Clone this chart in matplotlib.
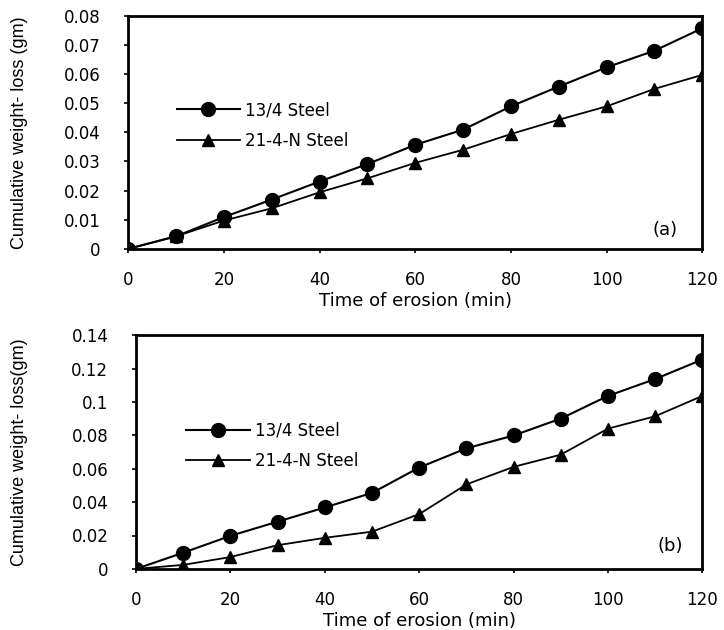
import matplotlib
matplotlib.use("Agg")
import matplotlib.pyplot as plt
from matplotlib.ticker import FuncFormatter

plt.rcParams['font.family'] = ['DejaVu Sans']

# Data
time_min = [0, 10, 20, 30, 40, 50, 60, 70, 80, 90, 100, 110, 120]

a_134 = [0, 0.0043, 0.0109, 0.0169, 0.0231, 0.0291, 0.0357, 0.0409, 0.0489, 0.0557, 0.0623, 0.068, 0.0757]
a_214n = [0, 0.0043, 0.0097, 0.0139, 0.0194, 0.0242, 0.0295, 0.034, 0.0394, 0.0443, 0.0489, 0.0549, 0.0597]

b_134 = [0, 0.0097, 0.0198, 0.0283, 0.0368, 0.0455, 0.0607, 0.0722, 0.0799, 0.090, 0.1036, 0.1137, 0.1254]
b_214n = [0, 0.0024, 0.0071, 0.0142, 0.0186, 0.0223, 0.0328, 0.0506, 0.0611, 0.0684, 0.084, 0.0914, 0.1036]

series_names = ["13/4 Steel", "21-4-N Steel"]

fig = plt.figure(figsize=(7.24, 6.3), dpi=100)
ax1 = fig.add_axes([0.177, 0.605, 0.793, 0.370])
ax2 = fig.add_axes([0.188, 0.097, 0.782, 0.371])

fmt = FuncFormatter(lambda v, p: "%g" % round(v, 3))

def style_panel(ax, y1, y2, ymax, ystep, tag, tag_xy, ylab, ylab_x, leg_anchor):
    ax.plot(time_min, y1, color="black", lw=1.5, marker="o", ms=10, label=series_names[0])
    ax.plot(time_min, y2, color="black", lw=1.3, marker="^", ms=9, label=series_names[1])
    ax.set_xlim(0, 120)
    ax.set_ylim(0, ymax)
    ax.set_xticks(range(0, 121, 20))
    n = int(round(ymax / ystep))
    ax.set_yticks([i * ystep for i in range(n + 1)])
    ax.yaxis.set_major_formatter(fmt)
    ax.tick_params(direction="out", length=3, width=1.2, labelsize=12)
    ax.tick_params(axis="x", pad=13)
    ax.tick_params(axis="y", pad=17)
    for s in ax.spines.values():
        s.set_linewidth(2)
    ax.set_xlabel("Time of erosion (min)", fontsize=13, labelpad=2)
    ax.set_ylabel(ylab, fontsize=13, family="Liberation Sans")
    ax.yaxis.set_label_coords(ylab_x, 0.5)
    ax.text(tag_xy[0], tag_xy[1], tag, transform=ax.transAxes, fontsize=13, ha="center", va="center")
    ax.legend(loc="upper left", bbox_to_anchor=leg_anchor, frameon=False, fontsize=12,
              handlelength=3.8, labelspacing=0.75, handletextpad=0.3, borderpad=0)

style_panel(ax1, a_134, a_214n, 0.08, 0.01, "(a)", (0.935, 0.08),
            "Cumulative weight- loss (gm)", -0.174, (0.07, 0.67))
style_panel(ax2, b_134, b_214n, 0.14, 0.02, "(b)", (0.943, 0.10),
            "Cumulative weight- loss(gm)", -0.191, (0.074, 0.665))

fig.savefig("out.png", dpi=100)
